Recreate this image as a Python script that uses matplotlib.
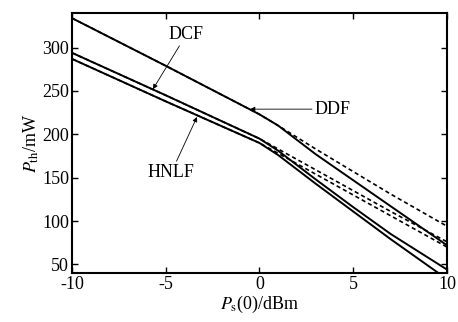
import matplotlib
matplotlib.use("Agg")
import matplotlib.pyplot as plt

plt.rcParams["font.family"] = ["Liberation Serif", "DejaVu Serif"]
plt.rcParams["mathtext.fontset"] = "stix"
plt.rcParams["font.size"] = 13
plt.rcParams["axes.unicode_minus"] = False

# input signal power, dBm
ps = [-10, -5, 0, 1, 3, 5, 7, 10]

# threshold power, mW (solid / dashed model for each fiber)
ddf_solid = [334, 279, 223, 210, 177, 147, 117, 72]
ddf_dash = [334, 279, 223, 210, 183, 157, 131, 94]
dcf_solid = [294, 245, 195, 181, 148, 116, 85, 44]
dcf_dash = [294, 245, 195, 183, 159, 135, 111, 76]
hnlf_solid = [287, 238, 190, 176, 143, 111, 79, 33]
hnlf_dash = [287, 238, 190, 178, 154, 130, 106, 70]

fig = plt.figure(figsize=(4.58, 3.22), dpi=100)
ax = fig.add_axes([0.157, 0.152, 0.819, 0.808])

for ys in (ddf_solid, dcf_solid, hnlf_solid):
    ax.plot(ps, ys, color="black", lw=1.4)
for ys in (ddf_dash, dcf_dash, hnlf_dash):
    ax.plot(ps, ys, color="black", lw=1.2, dashes=(2.5, 1.8))

arrow = dict(arrowstyle="-|>", lw=0.6, color="black", mutation_scale=7,
             shrinkA=0, shrinkB=0)
ax.annotate("DCF", xy=(-5.68, 252), xytext=(-3.9, 315), ha="center",
            va="center", arrowprops=arrow)
ax.annotate("HNLF", xy=(-3.33, 220), xytext=(-4.7, 156), ha="center",
            va="center", arrowprops=arrow)
ax.annotate("DDF", xy=(-0.5, 229), xytext=(2.95, 229), ha="left",
            va="center", arrowprops=arrow)

ax.set_xlim(-10, 10)
ax.set_ylim(40, 340)
ax.set_xticks([-10, -5, 0, 5, 10])
ax.set_yticks([50, 100, 150, 200, 250, 300])
ax.tick_params(direction="in", top=True, right=True, length=4, width=1,
               pad=2)
for s in ax.spines.values():
    s.set_linewidth(1.5)

ax.set_xlabel(r"$P_{\rm s}$(0)/dBm", labelpad=1)
ax.set_ylabel(r"$P_{\rm th}$/mW", labelpad=1)

fig.savefig("out.png", dpi=100)
